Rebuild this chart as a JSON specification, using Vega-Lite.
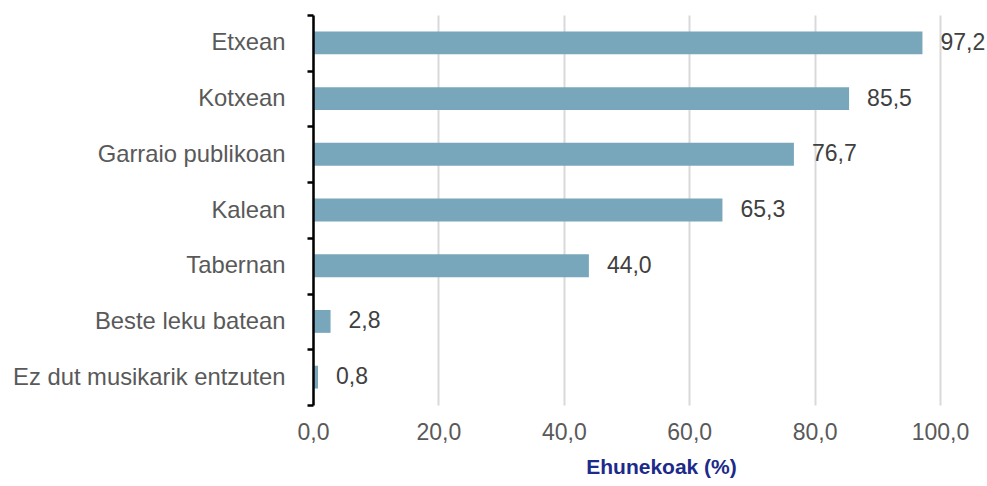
{
  "$schema": "https://vega.github.io/schema/vega-lite/v6.json",
  "autosize": {"type": "none"},
  "padding": {"left": 313, "top": 15, "right": 47, "bottom": 81},
  "width": 627,
  "height": 390,
  "background": "white",
  "config": {
    "view": {"stroke": null},
    "locale": {"number": {"decimal": ",", "thousands": ".", "grouping": [3], "currency": ["", " €"]}},
    "font": "Liberation Sans"
  },
  "data": {"values": [
    {"cat": "Etxean", "v": 97.2},
    {"cat": "Kotxean", "v": 85.5},
    {"cat": "Garraio publikoan", "v": 76.7},
    {"cat": "Kalean", "v": 65.3},
    {"cat": "Tabernan", "v": 44.0},
    {"cat": "Beste leku batean", "v": 2.8},
    {"cat": "Ez dut musikarik entzuten", "v": 0.8}
  ]},
  "encoding": {
    "y": {"field": "cat", "type": "nominal", "sort": null,
      "scale": {"paddingInner": 0, "paddingOuter": 0},
      "axis": {"title": null, "domainColor": "#000000", "domainWidth": 2.5, "tickColor": "#000000", "tickWidth": 2.5, "tickSize": 6, "tickBand": "extent", "labelFontSize": 23.8, "labelColor": "#595959", "labelPadding": 22, "labelLimit": 500, "labelFont": "Liberation Sans", "zindex": 2}
    },
    "x": {"field": "v", "type": "quantitative",
      "scale": {"domain": [0, 100], "nice": false},
      "axis": {"values": [0, 20, 40, 60, 80, 100], "format": ".1f", "domain": false, "ticks": false, "grid": true, "gridColor": "#d9d9d9", "gridWidth": 2, "labelFontSize": 23, "labelColor": "#595959", "labelPadding": 16, "labelFont": "Liberation Sans", "labelFlush": false, "labelOverlap": false,
        "title": "Ehunekoak (%)", "titleFontSize": 21, "titleFontWeight": "bold", "titleColor": "#1c2a8a", "titlePadding": 12, "titleX": 348, "titleAlign": "center", "titleFont": "Liberation Sans"}
    }
  },
  "layer": [
    {"mark": {"type": "bar", "color": "#78a6bb", "height": {"band": 0.41}}},
    {"mark": {"type": "text", "align": "left", "dx": 18, "fontSize": 23, "color": "#404040", "font": "Liberation Sans"},
     "encoding": {"text": {"field": "v", "type": "quantitative", "format": ".1f"}}}
  ]
}
